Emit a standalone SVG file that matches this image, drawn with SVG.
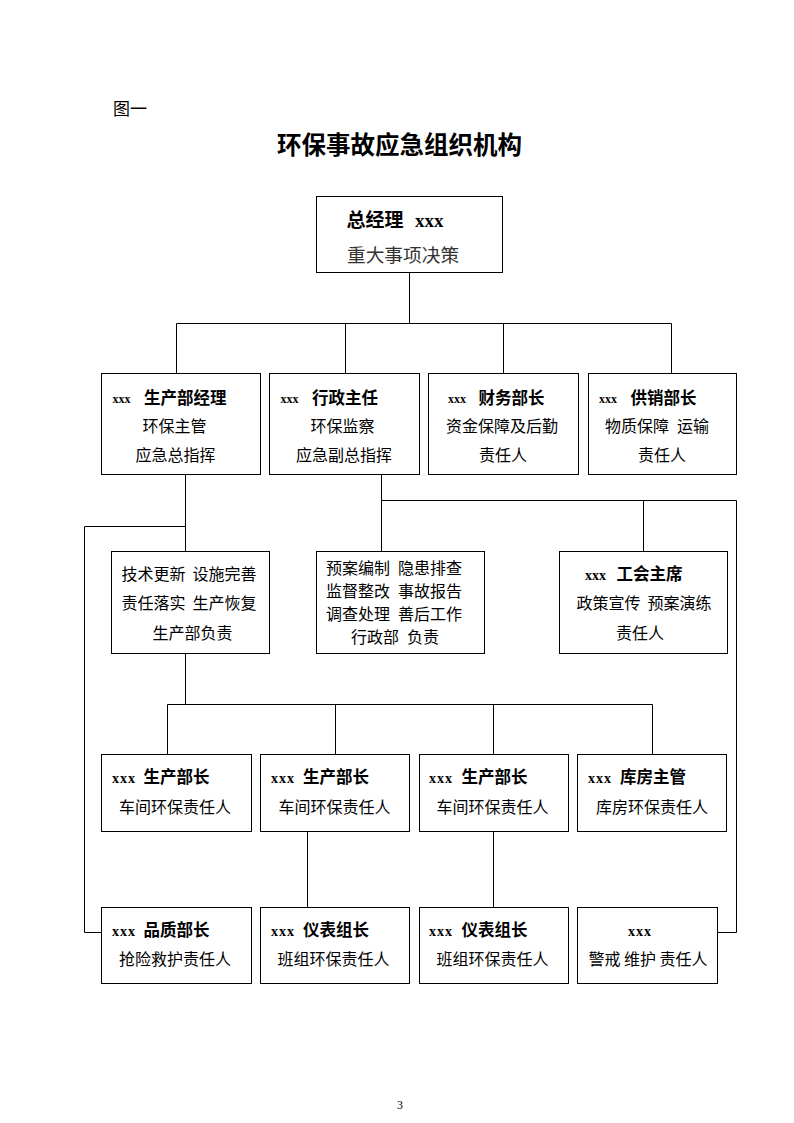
<svg xmlns="http://www.w3.org/2000/svg" width="794" height="1123" viewBox="0 0 794 1123">
<style>
.bx{fill:#fff;stroke:#000;stroke-width:1}
.cn{fill:none;stroke:#000;stroke-width:1}
.t{font-family:"Noto Sans CJK SC","Liberation Sans",sans-serif;font-size:16px;fill:#000}
.b{font-family:"Noto Sans CJK SC","Liberation Sans",sans-serif;font-size:16.5px;font-weight:bold;fill:#000}
.x{font-family:"Liberation Serif",serif;font-size:13px;font-weight:bold;fill:#000}
.m{text-anchor:middle}
</style>
<rect width="794" height="1123" fill="#fff"/>
<text x="113" y="115" class="t" style="font-size:17px">图一</text>
<text x="399.5" y="154" class="b m" style="font-size:24.5px">环保事故应急组织机构</text>
<text x="400" y="1109" class="m" style="font-family:'Liberation Serif',serif;font-size:12px">3</text>

<g id="connectors">
<path class="cn" d="M409.5 272V323.5M176.5 323.5H671.5M176.5 323.5V373.5M345.5 323.5V373.5M503.5 323.5V373.5M671.5 323.5V373.5"/>
<path class="cn" d="M185.5 475V551.5M84.5 526.5H185.5M84.5 526.5V932.5H101.5"/>
<path class="cn" d="M381.5 475V551.5M381.5 500.5H736.5M643.5 500.5V551.5M736.5 500.5V932.5H717.5"/>
<path class="cn" d="M185.5 653.5V704.5M167.5 704.5H652.5M167.5 704.5V754.5M335.5 704.5V754.5M493.5 704.5V754.5M652.5 704.5V754.5"/>
<path class="cn" d="M307.5 831.5V907.5M493.5 831.5V907.5"/>
</g>

<g id="gm">
<rect class="bx" x="316.5" y="196.5" width="186" height="76"/>
<text x="346.5" y="227" class="b" style="font-size:19px">总经理</text>
<text x="415" y="227" class="x" style="font-size:19px">xxx</text>
<text x="347" y="262" class="t" style="font-size:18.7px;fill:#333">重大事项决策</text>
</g>

<g id="prod-mgr">
<rect class="bx" x="101.5" y="373.5" width="159" height="101"/>
<text x="112.5" y="403" class="x" style="font-size:12px">xxx</text>
<text x="144" y="404" class="b">生产部经理</text>
<text x="174.5" y="432" class="t m">环保主管</text>
<text x="175.5" y="461" class="t m">应急总指挥</text>
</g>
<g id="admin">
<rect class="bx" x="269.5" y="373.5" width="150" height="101"/>
<text x="280.5" y="403" class="x" style="font-size:12px">xxx</text>
<text x="312" y="404" class="b">行政主任</text>
<text x="342.5" y="432" class="t m">环保监察</text>
<text x="344" y="461" class="t m">应急副总指挥</text>
</g>
<g id="finance">
<rect class="bx" x="428.5" y="373.5" width="150" height="101"/>
<text x="448" y="403" class="x" style="font-size:12px">xxx</text>
<text x="478.5" y="404" class="b">财务部长</text>
<text x="502" y="432" class="t m">资金保障及后勤</text>
<text x="503" y="461" class="t m">责任人</text>
</g>
<g id="supply">
<rect class="bx" x="588.5" y="373.5" width="148" height="101"/>
<text x="599" y="403" class="x" style="font-size:12px">xxx</text>
<text x="630.5" y="404" class="b">供销部长</text>
<text x="657" y="432" class="t m"><tspan>物质保障</tspan><tspan dx="8">运输</tspan></text>
<text x="662" y="461" class="t m">责任人</text>
</g>

<g id="prod-tasks">
<rect class="bx" x="111.5" y="551.5" width="158" height="102"/>
<text x="189" y="580" class="t m"><tspan>技术更新</tspan><tspan dx="7">设施完善</tspan></text>
<text x="189" y="609" class="t m"><tspan>责任落实</tspan><tspan dx="7">生产恢复</tspan></text>
<text x="192.5" y="639" class="t m">生产部负责</text>
</g>
<g id="admin-tasks">
<rect class="bx" x="316.5" y="551.5" width="168" height="102"/>
<text x="394" y="574" class="t m"><tspan>预案编制</tspan><tspan dx="8">隐患排查</tspan></text>
<text x="394" y="597" class="t m"><tspan>监督整改</tspan><tspan dx="8">事故报告</tspan></text>
<text x="394" y="620" class="t m"><tspan>调查处理</tspan><tspan dx="8">善后工作</tspan></text>
<text x="395" y="643" class="t m"><tspan>行政部</tspan><tspan dx="8">负责</tspan></text>
</g>
<g id="union">
<rect class="bx" x="559.5" y="551.5" width="168" height="102"/>
<text x="585" y="580" class="x" style="font-size:14px">xxx</text>
<text x="616.5" y="580" class="b">工会主席</text>
<text x="644" y="609" class="t m"><tspan>政策宣传</tspan><tspan dx="7">预案演练</tspan></text>
<text x="640" y="639" class="t m">责任人</text>
</g>

<g id="ws1">
<rect class="bx" x="101.5" y="754.5" width="150" height="77"/>
<text x="112" y="783" class="x" style="font-size:14px;letter-spacing:1px">xxx</text>
<text x="143.5" y="783" class="b">生产部长</text>
<text x="175" y="813" class="t m">车间环保责任人</text>
</g>
<g id="ws2">
<rect class="bx" x="260.5" y="754.5" width="149" height="77"/>
<text x="271" y="783" class="x" style="font-size:14px;letter-spacing:1px">xxx</text>
<text x="303" y="783" class="b">生产部长</text>
<text x="334.5" y="813" class="t m">车间环保责任人</text>
</g>
<g id="ws3">
<rect class="bx" x="419.5" y="754.5" width="149" height="77"/>
<text x="429" y="783" class="x" style="font-size:14px;letter-spacing:1px">xxx</text>
<text x="461.5" y="783" class="b">生产部长</text>
<text x="492.5" y="813" class="t m">车间环保责任人</text>
</g>
<g id="store">
<rect class="bx" x="577.5" y="754.5" width="149" height="77"/>
<text x="588" y="783" class="x" style="font-size:14px;letter-spacing:1px">xxx</text>
<text x="620" y="783" class="b">库房主管</text>
<text x="652" y="813" class="t m">库房环保责任人</text>
</g>

<g id="quality">
<rect class="bx" x="101.5" y="907.5" width="150" height="76"/>
<text x="112" y="936" class="x" style="font-size:14px;letter-spacing:1px">xxx</text>
<text x="143.5" y="936" class="b">品质部长</text>
<text x="175" y="965" class="t m">抢险救护责任人</text>
</g>
<g id="inst1">
<rect class="bx" x="260.5" y="907.5" width="149" height="76"/>
<text x="271" y="936" class="x" style="font-size:14px;letter-spacing:1px">xxx</text>
<text x="303" y="936" class="b">仪表组长</text>
<text x="333.5" y="965" class="t m">班组环保责任人</text>
</g>
<g id="inst2">
<rect class="bx" x="419.5" y="907.5" width="149" height="76"/>
<text x="429" y="936" class="x" style="font-size:14px;letter-spacing:1px">xxx</text>
<text x="461.5" y="936" class="b">仪表组长</text>
<text x="492.5" y="965" class="t m">班组环保责任人</text>
</g>
<g id="guard">
<rect class="bx" x="577.5" y="907.5" width="140" height="76"/>
<text x="640" y="936" class="x m" style="font-size:14px;letter-spacing:1px">xxx</text>
<text x="648" y="965" class="t m">警戒 维护 责任人</text>
</g>
</svg>
